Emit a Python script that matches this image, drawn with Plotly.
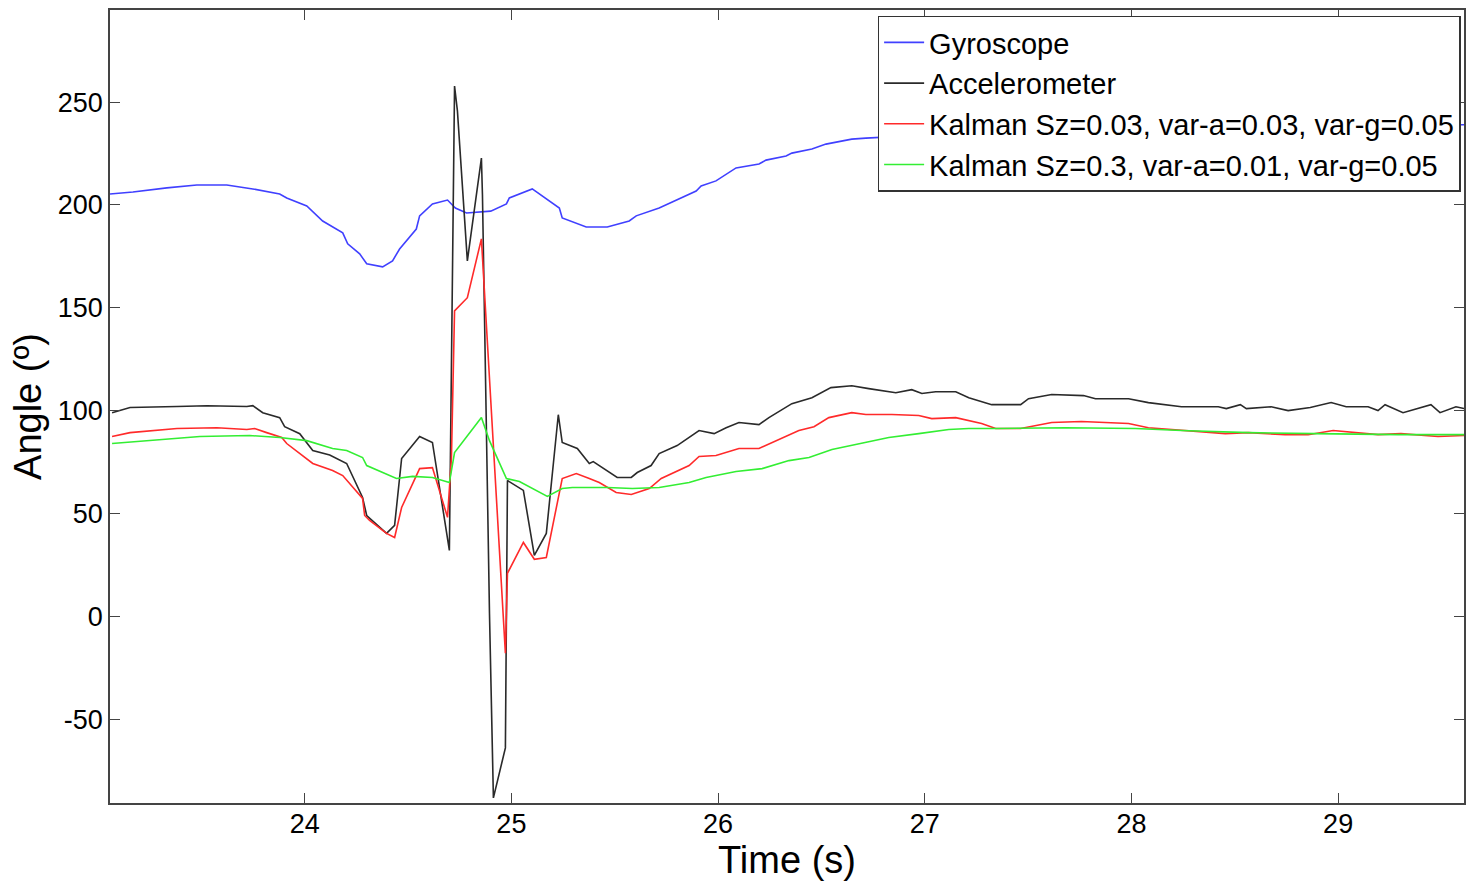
import plotly.graph_objects as go

# ---------------- data ----------------
gyro_t = [23.058, 23.169, 23.333, 23.478, 23.623, 23.749, 23.879, 23.913, 24.010, 24.087,
          24.184, 24.208, 24.266, 24.300, 24.377, 24.425, 24.459, 24.540, 24.556, 24.618,
          24.691, 24.729, 24.783, 24.900, 24.976, 24.990, 25.101, 25.232, 25.246, 25.362,
          25.464, 25.570, 25.604, 25.715, 25.894, 25.918, 25.990, 26.087, 26.198, 26.232,
          26.329, 26.357, 26.454, 26.522, 26.647, 26.715, 27.000, 27.500, 28.000, 28.500,
          29.000, 29.609]
gyro_y = [205.3, 206.3, 208.3, 209.7, 209.7, 207.8, 205.3, 203.4, 199.5, 192.2,
          186.4, 181.1, 176.2, 171.4, 169.9, 172.8, 178.6, 188.3, 194.7, 200.5,
          202.4, 198.5, 196.1, 197.0, 200.5, 203.4, 207.8, 198.5, 193.7, 189.3,
          189.3, 192.2, 194.7, 198.5, 206.8, 209.2, 211.7, 218.0, 219.9, 221.8,
          223.8, 225.2, 227.2, 229.6, 232.0, 232.5, 234.0, 235.5, 236.5, 237.5,
          238.3, 239.0]

acc_t = [23.068, 23.155, 23.382, 23.527, 23.720, 23.749, 23.797, 23.879, 23.903, 23.976,
         24.039, 24.121, 24.203, 24.280, 24.300, 24.396, 24.435, 24.469, 24.556, 24.618,
         24.700, 24.725, 24.739, 24.787, 24.855, 24.860, 24.894, 24.913, 24.971, 24.981,
         25.058, 25.111, 25.169, 25.227, 25.246, 25.319, 25.377, 25.396, 25.512, 25.580,
         25.609, 25.676, 25.715, 25.802, 25.908, 25.981, 26.039, 26.101, 26.198, 26.246,
         26.357, 26.454, 26.546, 26.647, 26.729, 26.860, 26.937, 26.986, 27.053, 27.150,
         27.213, 27.324, 27.464, 27.502, 27.614, 27.768, 27.826, 27.986, 28.082, 28.242,
         28.420, 28.459, 28.527, 28.556, 28.676, 28.758, 28.865, 28.966, 29.039, 29.145,
         29.193, 29.227, 29.314, 29.449, 29.493, 29.570, 29.609]
acc_y = [99.0, 101.5, 102.0, 102.4, 102.0, 102.4, 99.0, 96.6, 92.2, 88.8,
         80.6, 78.4, 74.3, 57.8, 49.0, 40.3, 44.2, 76.7, 87.4, 84.5,
         32.0, 257.8, 245.6, 172.8, 222.8, 205.0, 1.5, -88.3, -64.0, 66.0,
         61.2, 29.6, 40.3, 98.0, 84.5, 81.6, 74.3, 75.2, 67.5, 67.5,
         69.9, 73.3, 79.1, 83.0, 90.3, 88.8, 91.7, 94.2, 93.2, 96.6,
         103.4, 106.3, 111.2, 112.1, 110.7, 108.7, 110.2, 108.3, 109.2, 109.2,
         106.3, 102.9, 102.9, 105.8, 107.8, 107.3, 105.8, 105.8, 103.9, 101.9,
         101.9, 101.0, 102.9, 101.0, 101.9, 100.0, 101.5, 103.9, 101.9, 101.9,
         100.0, 102.9, 99.0, 102.9, 99.0, 101.9, 101.0]

k1_t = [23.068, 23.155, 23.382, 23.575, 23.720, 23.758, 23.816, 23.889, 23.913, 24.039,
        24.135, 24.184, 24.280, 24.290, 24.314, 24.396, 24.435, 24.469, 24.556, 24.618,
        24.691, 24.710, 24.725, 24.787, 24.855, 24.971, 24.981, 25.058, 25.111, 25.169,
        25.246, 25.314, 25.377, 25.425, 25.507, 25.580, 25.667, 25.725, 25.860, 25.908,
        25.990, 26.101, 26.198, 26.309, 26.391, 26.464, 26.536, 26.647, 26.715, 26.841,
        26.971, 27.034, 27.150, 27.275, 27.343, 27.464, 27.614, 27.758, 27.986, 28.082,
        28.242, 28.454, 28.565, 28.744, 28.855, 28.976, 29.193, 29.304, 29.483, 29.609]
k1_y = [87.4, 89.3, 91.3, 91.7, 90.8, 91.3, 89.3, 86.9, 84.0, 74.3,
        70.9, 68.4, 57.3, 49.0, 46.6, 40.3, 38.3, 52.9, 71.8, 72.3,
        48.1, 77.2, 148.5, 154.9, 183.5, -18.0, 20.9, 35.9, 27.7, 28.6,
        67.0, 69.4, 67.0, 65.0, 60.2, 59.2, 62.1, 67.0, 73.3, 77.7,
        78.2, 81.6, 81.6, 86.4, 90.3, 92.2, 96.6, 99.0, 98.1, 98.1,
        97.6, 96.1, 96.6, 93.7, 91.3, 91.3, 94.2, 94.7, 93.7, 91.7,
        90.3, 88.8, 89.3, 88.3, 88.3, 90.3, 88.3, 88.8, 87.4, 87.9]

k2_t = [23.068, 23.251, 23.493, 23.734, 23.879, 24.010, 24.135, 24.203, 24.280, 24.300,
        24.444, 24.522, 24.618, 24.700, 24.725, 24.855, 24.894, 24.976, 25.039, 25.174,
        25.246, 25.295, 25.464, 25.585, 25.715, 25.860, 25.942, 26.087, 26.213, 26.343,
        26.440, 26.551, 26.681, 26.826, 26.971, 27.116, 27.213, 27.357, 27.681, 28.019,
        28.242, 28.565, 28.889, 29.290, 29.609]
k2_y = [84.0, 85.4, 87.4, 87.9, 86.9, 85.4, 81.6, 80.6, 77.2, 73.3,
        67.0, 68.0, 67.5, 65.0, 79.6, 96.6, 85.4, 67.0, 65.5, 58.3,
        62.1, 62.6, 62.6, 62.1, 62.6, 65.0, 67.5, 70.4, 71.8, 75.7,
        77.2, 81.1, 84.0, 86.9, 88.8, 90.8, 91.3, 91.3, 91.7, 91.3,
        90.3, 89.3, 88.8, 88.3, 88.3]

names = ["Gyroscope", "Accelerometer",
         "Kalman Sz=0.03, var-a=0.03, var-g=0.05",
         "Kalman Sz=0.3, var-a=0.01, var-g=0.05"]
colors = ["#4040ff", "#2a2a2a", "#ff2a2a", "#33ee33"]

x_ticks = [24, 25, 26, 27, 28, 29]
x_ticktext = ["24", "25", "26", "27", "28", "29"]
y_ticks = [-50, 0, 50, 100, 150, 200, 250]
y_ticktext = ["-50", "0", "50", "100", "150", "200", "250"]
x_range = [23.058, 29.609]
y_range = [-90.8, 294.8]

FONT = "Liberation Sans, Arial, sans-serif"

fig = go.Figure()
for t, y, n, c in zip([gyro_t, acc_t, k1_t, k2_t], [gyro_y, acc_y, k1_y, k2_y], names, colors):
    fig.add_trace(go.Scatter(x=t, y=y, mode="lines", name=n,
                             line=dict(color=c, width=1.6)))

axis_common = dict(showgrid=False, zeroline=False, showline=True, linecolor="#444",
                   linewidth=1.5, mirror="ticks", ticks="inside", ticklen=10,
                   tickcolor="#444", tickwidth=1.2,
                   tickfont=dict(family=FONT, size=27, color="black"))

fig.update_layout(
    width=1466, height=881,
    paper_bgcolor="white", plot_bgcolor="white",
    margin=dict(l=110, r=0, t=10, b=78),
    font=dict(family=FONT, color="black"),
    xaxis=dict(range=x_range, tickvals=x_ticks, ticktext=x_ticktext,
               ticklabelstandoff=-4,
               title=dict(text="Time (s)", font=dict(family=FONT, size=38), standoff=6),
               **axis_common),
    yaxis=dict(range=y_range, tickvals=y_ticks, ticktext=y_ticktext,
               title=dict(text="Angle (º)", font=dict(family=FONT, size=38), standoff=4),
               **axis_common),
    legend=dict(x=0.9975, y=0.993, xanchor="right", yanchor="top",
                bgcolor="white", bordercolor="#333", borderwidth=1.5,
                font=dict(family=FONT, size=29, color="black"),
                tracegroupgap=0, itemwidth=40),
    showlegend=True,
)

fig.write_html("out.html")
